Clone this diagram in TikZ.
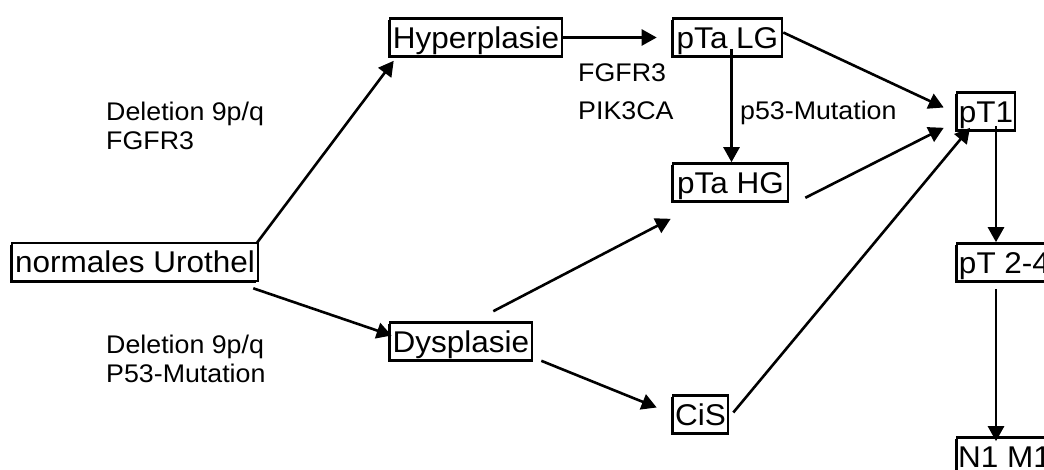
\documentclass[tikz,border=0pt]{standalone}
\usepackage{fontspec}
\newfontfamily\diafont[FakeStretch=1.05]{Liberation Sans}
\usetikzlibrary{arrows.meta,shadows,calc}
\begin{document}
\begin{tikzpicture}[x=1pt,y=-1pt,
  box/.style={draw=black, line width=2.6pt, fill=white, inner sep=0pt,
    minimum height=38pt, text height=21.5pt, text depth=0pt,
    font=\diafont\fontsize{30}{34}\selectfont,
    drop shadow={shadow xshift=-1.8pt, shadow yshift=-1.8pt, fill=black, opacity=1}},
  lbl/.style={inner sep=0pt, anchor=base west, font=\diafont\fontsize{25.5}{29}\selectfont},
  arr/.style={line width=2.6pt, -{Triangle[length=15pt,width=16pt]}}]
\clip (0,0) rectangle (1044,470);
\fill[white] (0,0) rectangle (1044,470);

% nodes
\node[box, minimum width=246pt] (uro) at (135,262) {normales Urothel};
\node[box, minimum width=172pt] (hyp) at (476,37.5) {Hyperplasie};
\node[box, minimum width=109pt] (lg) at (727.5,37.5) {pTa LG};
\node[box, minimum width=115pt] (hg) at (730.5,182.5) {pTa HG};
\node[box, minimum width=58pt] (t1) at (986,111.5) {pT1};
\node[box, minimum width=95pt] (t24) at (1004.5,262.5) {pT 2-4};
\node[box, minimum width=95pt] (nm) at (1004.5,456.5) {N1 M1};
\node[box, minimum width=142pt] (dys) at (461,341.5) {Dysplasie};
\node[box, minimum width=55pt] (cis) at (700.5,414.5) {CiS};

% labels
\node[lbl] (l1a) at (106,121) {Deletion 9p/q};
\node[lbl] (l1b) at (106,150) {FGFR3};
\node[lbl] (l2a) at (106,353) {Deletion 9p/q};
\node[lbl] (l2b) at (106,382) {P53-Mutation};
\node[lbl] (l3a) at (578,82) {FGFR3};
\node[lbl] (l3b) at (578,120) {PIK3CA};
\node[lbl] (l4) at (740,120) {p53-Mutation};

% connectors
\draw[arr] ([shift={(-3,2)}]uro.north east) -- ([shift={(5,3)}]hyp.south west);
\draw[arr] ([shift={(-6,6)}]uro.south east) -- ([shift={(3,-6)}]dys.west);
\draw[arr] (hyp.east) -- ([xshift=-15]lg.west);
\draw[arr] ([shift={(0,-5)}]lg.east) -- ([shift={(-12,-4)}]t1.west);
\coordinate (lgs) at ([shift={(4,-9)}]lg.south);
\draw[arr] (lgs) -- (lgs |- hg.north);
\draw[arr] ([shift={(16,-5)}]hg.south east) -- ([shift={(-12,-4)}]t1.south west);
\draw[arr] ([shift={(-40,-10)}]dys.north east) -- ([shift={(-1,16)}]hg.south west);
\draw[arr] ([shift={(8,-1)}]dys.south east) -- ([shift={(-15,-7)}]cis.west);
\draw[arr] ([shift={(4,-2)}]cis.east) -- ([shift={(-16,-4)}]t1.south);
\coordinate (t1s) at ([shift={(10,-6)}]t1.south);
\draw[arr] (t1s) -- (t1s |- t24.north);
\coordinate (t24s) at ([shift={(-8.5,6)}]t24.south);
\draw[arr] (t24s) -- ([yshift=-5]t24s |- nm.north);
\end{tikzpicture}
\end{document}
